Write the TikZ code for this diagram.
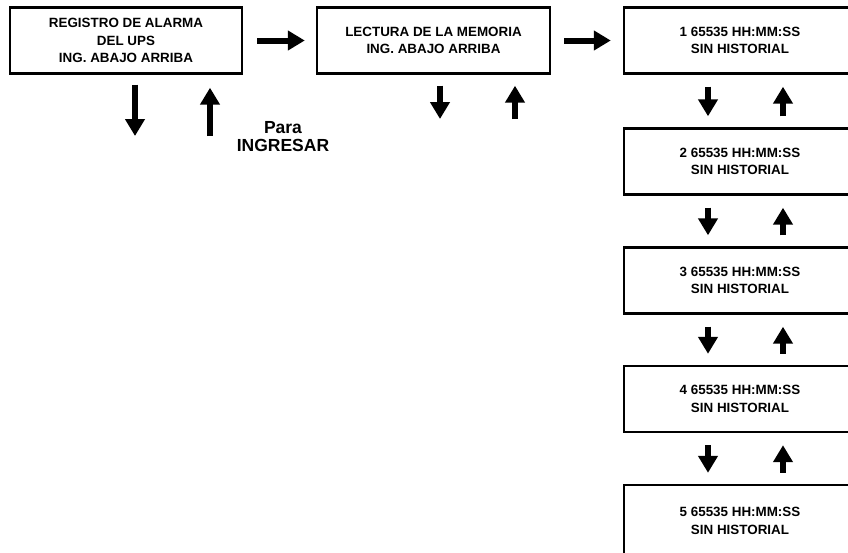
\documentclass[tikz,border=0pt]{standalone}
\usepackage{fontspec}
\setmainfont{Liberation Sans}
\usetikzlibrary{arrows.meta}

\begin{document}
\begin{tikzpicture}[x=1pt, y=-1pt, box/.style={draw, line width=2.4pt, minimum width=232pt, minimum height=66pt, inner sep=0pt, align=center, font=\bfseries\fontsize{13.4}{17.7}\selectfont}, arr/.style={line width=6pt, -{Triangle[length=17pt,width=19pt]}}]
\clip (0,0) rectangle (848,552);
\node[box] (reg) at (126,40.5) {REGISTRO DE ALARMA\\DEL UPS\\ING. ABAJO ARRIBA};
\node[box, minimum width=233pt] (mem) at (433.5,40.5) {LECTURA DE LA MEMORIA\\ING. ABAJO ARRIBA};
\foreach \i/\y in {1/40.5, 2/161.5, 3/280.5, 4/399}
  \node[box] (c\i) at (740,\y) {\i\ 65535 HH:MM:SS\\SIN HISTORIAL};
\node[box, minimum height=72pt] (c5) at (740,521) {5 65535 HH:MM:SS\\SIN HISTORIAL};
\node[align=center, font=\bfseries\fontsize{17.5}{18}\selectfont] (para) at (283,137) {Para\\INGRESAR};
\coordinate (regdn) at (135,136);\coordinate (regup) at (210,136);
\coordinate (memdn) at (440,119);\coordinate (memup) at (515,119);
\draw[arr] ([xshift=14pt]reg.east) -- ([xshift=-11pt]mem.west);
\draw[arr] ([xshift=13pt]mem.east) -- ([xshift=-12pt]c1.west);
\draw[arr] ([xshift=9pt,yshift=-10pt]reg.south) -- (regdn);
\draw[arr] (regup) -- ([xshift=84pt,yshift=-13pt]reg.south);
\draw[arr] ([xshift=6.5pt,yshift=-11pt]mem.south) -- (memdn);
\draw[arr] (memup) -- ([xshift=81.5pt,yshift=-11pt]mem.south);
\foreach \a/\b in {c1/c2, c2/c3, c3/c4, c4/c5} {
  \draw[arr] ([xshift=-32pt,yshift=-12pt]\a.south) -- ([xshift=-32pt,yshift=11pt]\b.north);
  \draw[arr] ([xshift=43pt,yshift=11pt]\b.north) -- ([xshift=43pt,yshift=-12pt]\a.south);
}
\end{tikzpicture}
\end{document}
